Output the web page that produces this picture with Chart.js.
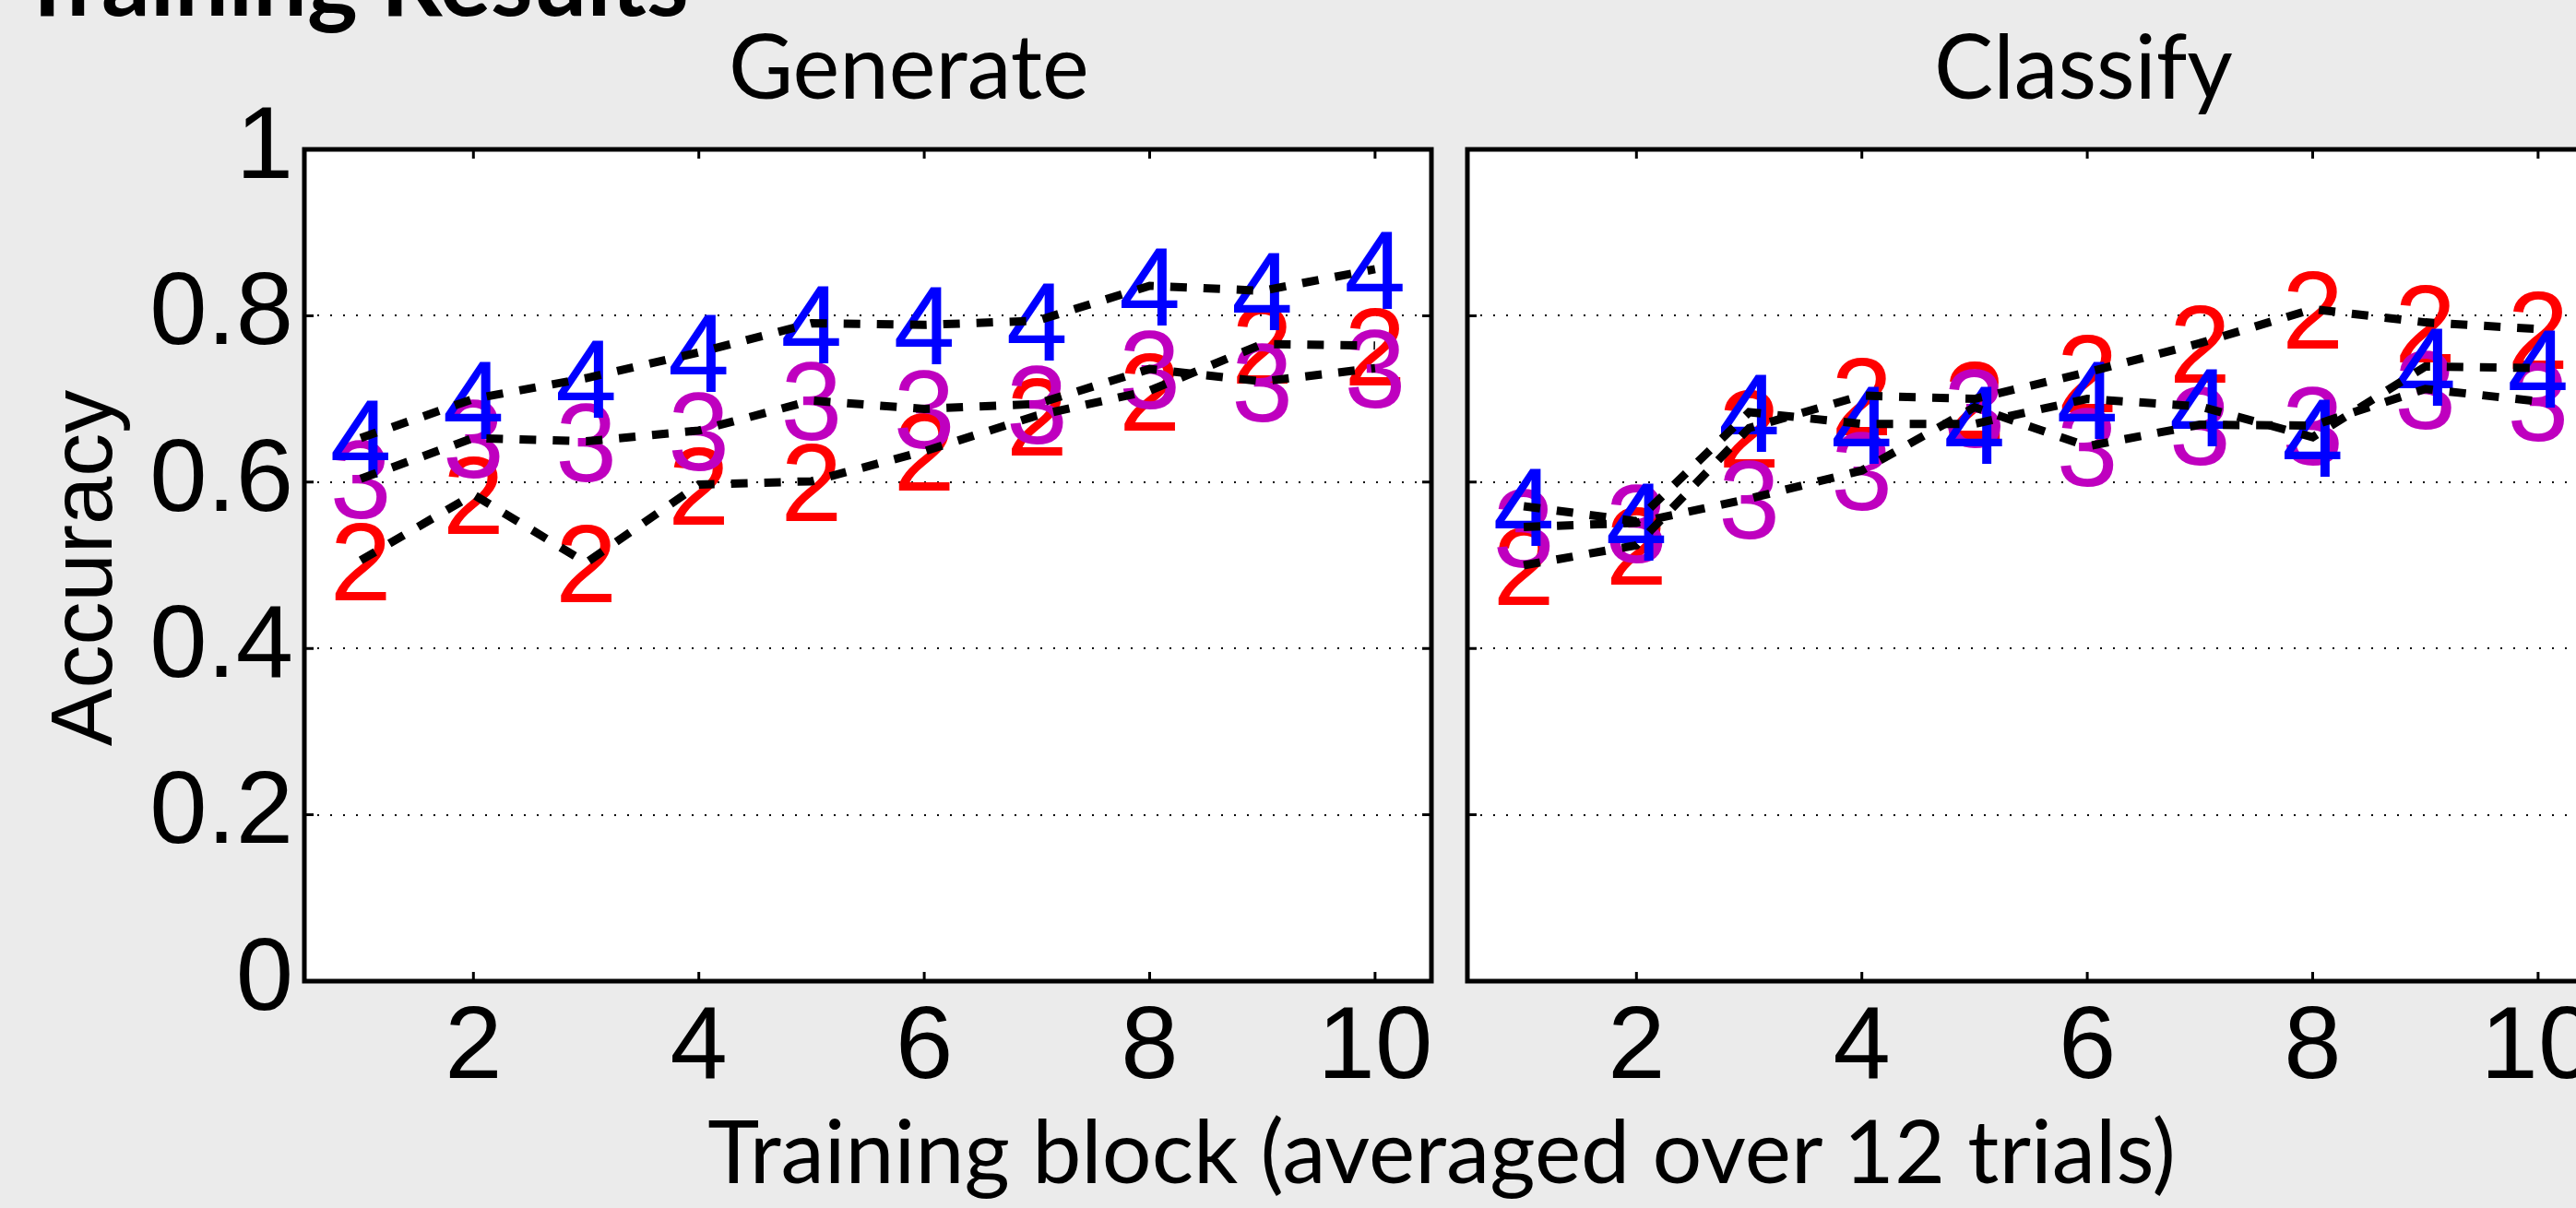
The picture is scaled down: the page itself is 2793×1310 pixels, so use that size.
<!DOCTYPE html>
<html>
<head>
<meta charset="utf-8">
<script src="https://cdn.jsdelivr.net/npm/chart.js@4.4.1/dist/chart.umd.min.js"></script>
<style>
  html, body { margin: 0; padding: 0; background: #ebebeb; overflow: hidden; }
  body { width: 2793px; height: 1310px; position: relative; }
  canvas { position: absolute; top: 0; }
  #genCanvas { left: 0; }
  #clsCanvas { left: 1560px; }
  .lbl { position: absolute; white-space: nowrap; line-height: 1; color: #000; }
  .calib { font-family: Lato, "Open Sans", sans-serif; font-size: 96px; }
  #pageTitle { left: 20px; top: -75px; font-family: Lato, sans-serif; font-weight: bold; font-size: 104px; }
  #genTitle { left: 790px; top: 22px; }
  #clsTitle { left: 2097px; top: 22px; }
  #xTitle { left: 1563px; top: 1199px; font-size: 95px; transform: translateX(-50%); }
  #yTitle { left: 89px; top: 616px; font-family: "Liberation Sans", Arial, sans-serif; font-size: 94px;
            transform: translate(-50%, -50%) rotate(-90deg); }
</style>
</head>
<body>
<div class="lbl" id="pageTitle">Training Results</div>
<div class="lbl calib" id="genTitle">Generate</div>
<div class="lbl calib" id="clsTitle">Classify</div>
<div class="lbl calib" id="xTitle">Training block (averaged over 12 trials)</div>
<div class="lbl" id="yTitle">Accuracy</div>
<canvas id="genCanvas" width="1575" height="1310"></canvas>
<canvas id="clsCanvas" width="1300" height="1310"></canvas>
<script>
// training blocks 1..10
const blocks = [1, 2, 3, 4, 5, 6, 7, 8, 9, 10];
const xTicks = [2, 4, 6, 8, 10];
const yTicks = [0, 0.2, 0.4, 0.6, 0.8, 1];

// Generate task, one series per condition (2, 3, 4)
const genTwo   = [0.506, 0.585, 0.503, 0.597, 0.601, 0.637, 0.680, 0.710, 0.766, 0.764];
const genThree = [0.604, 0.653, 0.649, 0.662, 0.698, 0.688, 0.694, 0.736, 0.721, 0.737];
const genFour  = [0.653, 0.700, 0.725, 0.756, 0.791, 0.789, 0.794, 0.836, 0.830, 0.856];

// Classify task
const clsTwo   = [0.500, 0.524, 0.665, 0.704, 0.700, 0.732, 0.767, 0.808, 0.792, 0.784];
const clsThree = [0.546, 0.551, 0.580, 0.614, 0.690, 0.643, 0.669, 0.668, 0.712, 0.697];
const clsFour  = [0.571, 0.553, 0.684, 0.670, 0.670, 0.700, 0.691, 0.654, 0.739, 0.737];

const digitLabels = ['2', '3', '4'];
const digitColors = ['#ff0000', '#bf00bf', '#0000ff'];

const TICK_FONT = '"Liberation Sans", Arial, sans-serif';

// white plot area, digits under the dashed lines, box + inward ticks on top
const axesBox = {
  id: 'axesBox',
  beforeDraw(chart) {
    const { ctx, chartArea: a } = chart;
    ctx.save();
    ctx.fillStyle = '#ffffff';
    ctx.fillRect(a.left, a.top, a.right - a.left, a.bottom - a.top);
    ctx.restore();
  },
  beforeDatasetsDraw(chart) {
    const { ctx, scales: { x, y } } = chart;
    ctx.save();
    ctx.font = '120px ' + TICK_FONT;
    ctx.textAlign = 'center';
    ctx.textBaseline = 'alphabetic';
    chart.data.datasets.forEach(ds => {
      ctx.fillStyle = ds.digitColor;
      ds.data.forEach(p => {
        ctx.fillText(ds.digit, x.getPixelForValue(p.x), y.getPixelForValue(p.y) + 43);
      });
    });
    ctx.restore();
  },
  afterDraw(chart) {
    const { ctx, chartArea: a, scales: { x, y } } = chart;
    ctx.save();
    ctx.strokeStyle = '#000';
    ctx.lineWidth = 3;
    ctx.beginPath();
    xTicks.forEach(v => {
      const px = x.getPixelForValue(v);
      ctx.moveTo(px, a.bottom); ctx.lineTo(px, a.bottom - 10);
      ctx.moveTo(px, a.top); ctx.lineTo(px, a.top + 10);
    });
    yTicks.forEach(v => {
      const py = y.getPixelForValue(v);
      ctx.moveTo(a.left, py); ctx.lineTo(a.left + 10, py);
      ctx.moveTo(a.right, py); ctx.lineTo(a.right - 10, py);
    });
    ctx.stroke();
    ctx.lineWidth = 5;
    ctx.strokeRect(a.left, a.top, a.right - a.left, a.bottom - a.top);
    ctx.restore();
  }
};

function series(values, i) {
  return {
    data: blocks.map((b, k) => ({ x: b, y: values[k] })),
    digit: digitLabels[i],
    digitColor: digitColors[i],
    borderColor: '#000',
    borderWidth: 9,
    borderDash: [18, 18],
    pointRadius: 0,
    tension: 0,
    fill: false
  };
}

function makePanel(id, rows, opts) {
  return new Chart(document.getElementById(id), {
    type: 'line',
    data: { datasets: rows.map(series) },
    options: {
      responsive: false,
      animation: false,
      layout: { padding: { top: 162, right: opts.padRight, left: 0, bottom: 0 } },
      plugins: { legend: { display: false }, tooltip: { enabled: false } },
      scales: {
        x: {
          type: 'linear',
          min: 0.5,
          max: 10.5,
          afterBuildTicks: s => { s.ticks = xTicks.map(v => ({ value: v })); },
          afterFit: s => { s.height = 1310 - 1064; },
          grid: { display: false, drawTicks: false },
          border: { display: false },
          ticks: { color: '#000', padding: 7, maxRotation: 0, autoSkip: false,
                   callback: v => String(v),
                   font: { family: TICK_FONT, size: 112 } }
        },
        y: {
          min: 0,
          max: 1,
          afterBuildTicks: s => { s.ticks = yTicks.map(v => ({ value: v })); },
          afterFit: s => { s.width = opts.axisWidth; },
          grid: { color: '#000', lineWidth: 2, drawTicks: false },
          border: { display: false, dash: [2, 12] },
          ticks: { display: opts.showYLabels, color: '#000', padding: 12,
                   callback: v => String(v),
                   font: { family: TICK_FONT, size: 112 } }
        }
      }
    },
    plugins: [axesBox]
  });
}

makePanel('genCanvas', [genTwo, genThree, genFour], { padRight: 23, axisWidth: 330, showYLabels: true });
makePanel('clsCanvas', [clsTwo, clsThree, clsFour], { padRight: 47, axisWidth: 31, showYLabels: false });
</script>
</body>
</html>
